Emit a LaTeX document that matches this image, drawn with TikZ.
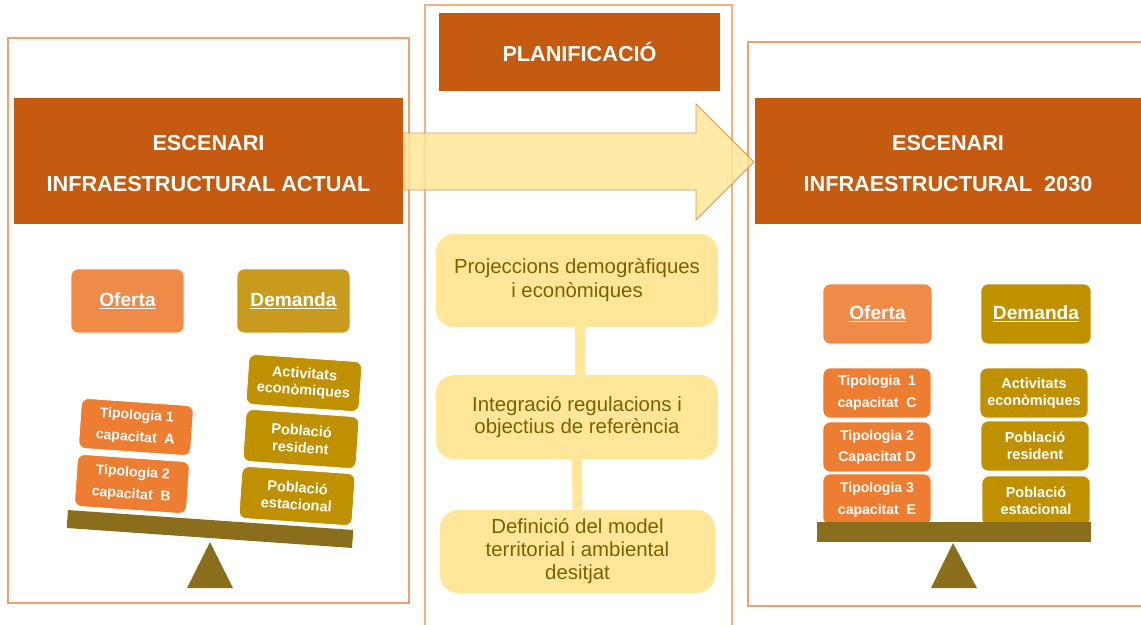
\documentclass[tikz,border=0pt]{standalone}
\usepackage{fontspec}
\setmainfont{Liberation Sans}
\newcommand\pxu{0.025cm}
\definecolor{hdr}{HTML}{C55A11}
\definecolor{framec}{HTML}{F2A06A}
\definecolor{framecc}{HTML}{F4B183}
\definecolor{ofc}{HTML}{EF8A48}
\definecolor{demc}{HTML}{C89B1E}
\definecolor{demd}{HTML}{BF9000}
\definecolor{tipc}{HTML}{ED7D31}
\definecolor{plankc}{HTML}{8B6E1B}
\definecolor{yel}{HTML}{FFE699}
\definecolor{ytext}{HTML}{7F6000}
\definecolor{arrowline}{HTML}{E5924A}
\tikzset{
  sz/.style 2 args={minimum width=#1*\pxu, minimum height=#2*\pxu},
  framebox/.style={draw=framec, line width=0.8pt, inner sep=0},
  hdrbox/.style={fill=hdr, text=white, align=center, inner sep=0,
    font=\bfseries\fontsize{15.4}{29}\selectfont},
  headbox/.style={rounded corners=5pt, draw=white, line width=0.5pt, text=white, inner sep=0,
    font=\bfseries\fontsize{13.6}{16}\selectfont},
  tipbox/.style={fill=tipc, rounded corners=5pt, draw=white, line width=0.5pt, text=white,
    align=center, inner sep=0, font=\bfseries\fontsize{10}{15.6}\selectfont},
  dembox/.style={fill=demd, rounded corners=5pt, draw=white, line width=0.5pt, text=white,
    align=center, inner sep=0, font=\bfseries\fontsize{10.3}{11.9}\selectfont},
  plank/.style={fill=plankc, inner sep=0},
  yelbox/.style={fill=yel, rounded corners=0.45cm, text=ytext, align=center, inner sep=0,
    font=\fontsize{14.5}{17}\selectfont},
  conn/.style={draw=yel, line width=10*\pxu},
}
\begin{document}
\begin{tikzpicture}[x=\pxu, y=-\pxu]
\useasboundingbox (0,0) rectangle (1141,624);
% frames
\node[framebox, sz={401}{565}] (lframe) at (208.5,320.5) {};
\node[framebox, draw=framecc, sz={307}{640}] (cframe) at (578.5,325) {};
\node[framebox, sz={410}{564}] (rframe) at (953,324) {};
% headers
\node[hdrbox, sz={389}{126}] (lhead) at (208.5,161) {};
\node[hdrbox, sz={386}{126}] (rhead) at (948,161) {};
\node[hdrbox, fill=none] (lheadt) at (208.5,163.5) {ESCENARI\\INFRAESTRUCTURAL ACTUAL};
\node[hdrbox, fill=none] (rheadt) at (948,163.5) {ESCENARI\\INFRAESTRUCTURAL\ \ 2030};
\node[hdrbox, sz={281}{78}] (plan) at (579.5,52) {PLANIFICACIÓ};
% big arrow
\draw[fill=yel, fill opacity=0.85, draw=arrowline, line width=0.6pt]
  (404,133) -- (696,133) -- (696,104) -- (754,162) -- (696,220) -- (696,190) -- (404,190) -- cycle;
% centre column
\node[yelbox, sz={282}{93}] (b1) at (577,280.5) {Projeccions demogràfiques\\i econòmiques};
\node[yelbox, sz={282}{84}, font=\fontsize{14.5}{15.6}\selectfont] (b2) at (577,417) {Integració regulacions i\\objectius de referència};
\node[yelbox, sz={275}{83}, font=\fontsize{14.5}{16.3}\selectfont] (b3) at (577.5,551.5) {Definició del model\\territorial i ambiental\\desitjat};
\draw[conn] ([xshift=3*\pxu]b1.south) -- ([xshift=3*\pxu]b2.north);
\draw[conn] (b2.south) -- (b3.north);
% left panel
\node[headbox, fill=ofc, sz={113}{64}] (lof) at (127.5,301) {\underline{Oferta}};
\node[headbox, fill=demc, sz={113}{64}] (ldem) at (293.5,301) {\underline{Demanda}};
\node[tipbox, sz={112}{50}, rotate=-4] (lt1) at (136,427) {Tipologia 1\\capacitat\ \ A};
\node[tipbox, sz={112}{52}, rotate=-4] (lt2) at (132,484) {Tipologia 2\\capacitat\ \ B};
\node[dembox, sz={113}{50}, rotate=-4] (ld1) at (304,383) {Activitats\\econòmiques};
\node[dembox, sz={113}{52}, rotate=-4, font=\bfseries\fontsize{10.3}{12.2}\selectfont] (ld2) at (301,439) {Població\\resident};
\node[dembox, sz={113}{52}, rotate=-4, font=\bfseries\fontsize{10.3}{12.2}\selectfont] (ld3) at (297,496) {Població\\estacional};
\node[plank, sz={286}{18}, rotate=-4] (lplank) at (210,529) {};
\coordinate (lapex) at (210,542);
\fill[plankc] (lapex) -- (233,588) -- (187,588) -- cycle;
% right panel
\node[headbox, fill=ofc, sz={109}{60}] (rof) at (877.5,314) {\underline{Oferta}};
\node[headbox, fill=demd, sz={110}{60}] (rdem) at (1036,314) {\underline{Demanda}};
\node[tipbox, sz={108}{50}] (rt1) at (877,393) {Tipologia\ \ 1\\capacitat\ \ C};
\node[tipbox, sz={108}{50}, font=\bfseries\fontsize{10}{15}\selectfont] (rt2) at (877,447) {Tipologia 2\\Capacitat D};
\node[tipbox, sz={108}{51}] (rt3) at (877,499.5) {Tipologia 3\\capacitat\ \ E};
\node[dembox, sz={108}{50}] (rd1) at (1034,393) {Activitats\\econòmiques};
\node[dembox, sz={108}{50}] (rd2) at (1035,446) {Població\\resident};
\node[dembox, sz={108}{50}] (rd3) at (1036,501) {Població\\estacional};
\node[plank, sz={274}{20}] (rplank) at (954,532) {};
\coordinate (rapex) at (953,543);
\fill[plankc] (rapex) -- (977,588) -- (931,588) -- cycle;
\end{tikzpicture}
\end{document}
